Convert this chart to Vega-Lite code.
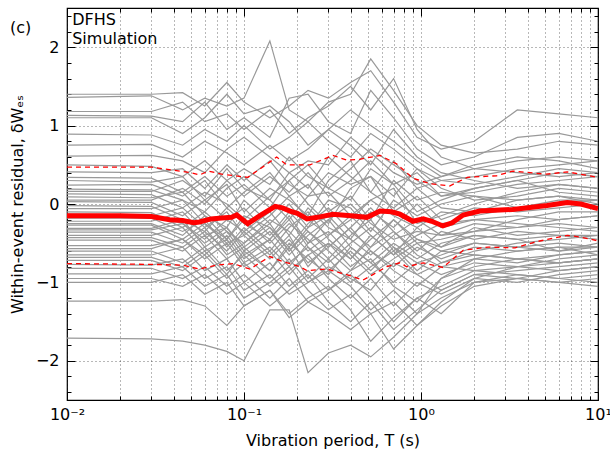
{
"$schema": "https://vega.github.io/schema/vega-lite/v6.json",
"autosize": "none",
"width": 531,
"height": 392,
"padding": {"left": 67, "top": 8, "right": 12, "bottom": 51},
"background": "white",
"title": {"text": "(c)", "anchor": "start", "frame": "group", "offset": 0, "dx": -57, "dy": 41, "baseline": "alphabetic", "fontSize": 16, "fontWeight": "normal", "font": "DejaVu Sans", "color": "black"},
"config": {
"view": {"stroke": "black", "strokeWidth": 1.2},
"axis": {"labelFont": "DejaVu Sans", "titleFont": "DejaVu Sans", "labelFontSize": 16, "titleFontSize": 16, "titleFontWeight": "normal", "labelColor": "black", "titleColor": "black", "domain": false, "tickColor": "black", "tickWidth": 1}
},
"datasets": {
"g": [
{"s":1,"t":0.01,"y":1.40},{"s":1,"t":0.03,"y":1.40},{"s":1,"t":0.045,"y":1.42},{"s":1,"t":0.06,"y":1.25},{"s":1,"t":0.08,"y":1.55},{"s":1,"t":0.1,"y":1.30},{"s":1,"t":0.14,"y":1.10},{"s":1,"t":0.18,"y":1.25},{"s":1,"t":0.23,"y":1.45},{"s":1,"t":0.3,"y":1.35},{"s":1,"t":0.4,"y":1.55},{"s":1,"t":0.52,"y":1.70},{"s":1,"t":0.7,"y":1.30},{"s":1,"t":0.95,"y":0.85},{"s":1,"t":1.3,"y":0.70},{"s":1,"t":2,"y":0.80},{"s":1,"t":3.5,"y":1.20},{"s":1,"t":6,"y":1.15},{"s":1,"t":10,"y":1.10},
{"s":2,"t":0.01,"y":1.36},{"s":2,"t":0.03,"y":1.38},{"s":2,"t":0.045,"y":1.20},{"s":2,"t":0.06,"y":1.35},{"s":2,"t":0.08,"y":1.25},{"s":2,"t":0.1,"y":1.35},{"s":2,"t":0.14,"y":2.08},{"s":2,"t":0.18,"y":1.20},{"s":2,"t":0.23,"y":1.05},{"s":2,"t":0.3,"y":1.30},{"s":2,"t":0.4,"y":1.40},{"s":2,"t":0.52,"y":1.85},{"s":2,"t":0.7,"y":1.45},{"s":2,"t":0.95,"y":1.00},{"s":2,"t":1.3,"y":0.75},{"s":2,"t":2,"y":0.65},{"s":2,"t":3.5,"y":0.70},{"s":2,"t":6,"y":0.80},{"s":2,"t":10,"y":0.75},
{"s":3,"t":0.01,"y":1.18},{"s":3,"t":0.03,"y":1.18},{"s":3,"t":0.045,"y":1.30},{"s":3,"t":0.06,"y":1.05},{"s":3,"t":0.08,"y":1.15},{"s":3,"t":0.1,"y":0.95},{"s":3,"t":0.14,"y":1.20},{"s":3,"t":0.18,"y":0.90},{"s":3,"t":0.23,"y":1.10},{"s":3,"t":0.3,"y":1.25},{"s":3,"t":0.4,"y":1.50},{"s":3,"t":0.52,"y":1.20},{"s":3,"t":0.7,"y":1.60},{"s":3,"t":0.95,"y":0.95},{"s":3,"t":1.3,"y":0.60},{"s":3,"t":2,"y":0.45},{"s":3,"t":3.5,"y":0.55},{"s":3,"t":6,"y":0.60},{"s":3,"t":10,"y":0.55},
{"s":4,"t":0.01,"y":1.13},{"s":4,"t":0.03,"y":1.12},{"s":4,"t":0.045,"y":1.05},{"s":4,"t":0.06,"y":1.30},{"s":4,"t":0.08,"y":0.95},{"s":4,"t":0.1,"y":1.10},{"s":4,"t":0.14,"y":0.85},{"s":4,"t":0.18,"y":1.35},{"s":4,"t":0.23,"y":1.40},{"s":4,"t":0.3,"y":1.05},{"s":4,"t":0.4,"y":0.90},{"s":4,"t":0.52,"y":1.45},{"s":4,"t":0.7,"y":1.10},{"s":4,"t":0.95,"y":0.70},{"s":4,"t":1.3,"y":0.50},{"s":4,"t":2,"y":0.60},{"s":4,"t":3.5,"y":0.85},{"s":4,"t":6,"y":0.90},{"s":4,"t":10,"y":0.80},
{"s":5,"t":0.01,"y":1.10},{"s":5,"t":0.03,"y":1.10},{"s":5,"t":0.045,"y":0.90},{"s":5,"t":0.06,"y":1.10},{"s":5,"t":0.08,"y":1.40},{"s":5,"t":0.1,"y":1.15},{"s":5,"t":0.14,"y":1.25},{"s":5,"t":0.18,"y":1.05},{"s":5,"t":0.23,"y":0.75},{"s":5,"t":0.3,"y":0.95},{"s":5,"t":0.4,"y":1.20},{"s":5,"t":0.52,"y":1.00},{"s":5,"t":0.7,"y":0.80},{"s":5,"t":0.95,"y":0.55},{"s":5,"t":1.3,"y":0.35},{"s":5,"t":2,"y":0.45},{"s":5,"t":3.5,"y":0.40},{"s":5,"t":6,"y":0.35},{"s":5,"t":10,"y":0.40},
{"s":6,"t":0.01,"y":0.89},{"s":6,"t":0.03,"y":0.88},{"s":6,"t":0.045,"y":0.75},{"s":6,"t":0.06,"y":0.95},{"s":6,"t":0.08,"y":0.80},{"s":6,"t":0.1,"y":1.00},{"s":6,"t":0.14,"y":0.70},{"s":6,"t":0.18,"y":0.85},{"s":6,"t":0.23,"y":1.05},{"s":6,"t":0.3,"y":0.80},{"s":6,"t":0.4,"y":0.60},{"s":6,"t":0.52,"y":0.90},{"s":6,"t":0.7,"y":0.70},{"s":6,"t":0.95,"y":0.45},{"s":6,"t":1.3,"y":0.30},{"s":6,"t":2,"y":0.25},{"s":6,"t":3.5,"y":0.35},{"s":6,"t":6,"y":0.45},{"s":6,"t":10,"y":0.40},
{"s":7,"t":0.01,"y":0.75},{"s":7,"t":0.03,"y":0.76},{"s":7,"t":0.045,"y":0.60},{"s":7,"t":0.06,"y":0.80},{"s":7,"t":0.08,"y":0.65},{"s":7,"t":0.1,"y":0.50},{"s":7,"t":0.14,"y":0.75},{"s":7,"t":0.18,"y":0.55},{"s":7,"t":0.23,"y":0.70},{"s":7,"t":0.3,"y":0.95},{"s":7,"t":0.4,"y":0.75},{"s":7,"t":0.52,"y":0.50},{"s":7,"t":0.7,"y":0.95},{"s":7,"t":0.95,"y":0.60},{"s":7,"t":1.3,"y":0.40},{"s":7,"t":2,"y":0.30},{"s":7,"t":3.5,"y":0.20},{"s":7,"t":6,"y":0.25},{"s":7,"t":10,"y":0.20},
{"s":8,"t":0.01,"y":0.61},{"s":8,"t":0.03,"y":0.62},{"s":8,"t":0.045,"y":0.55},{"s":8,"t":0.06,"y":0.40},{"s":8,"t":0.08,"y":0.70},{"s":8,"t":0.1,"y":0.85},{"s":8,"t":0.14,"y":0.60},{"s":8,"t":0.18,"y":0.40},{"s":8,"t":0.23,"y":0.55},{"s":8,"t":0.3,"y":0.50},{"s":8,"t":0.4,"y":0.85},{"s":8,"t":0.52,"y":0.65},{"s":8,"t":0.7,"y":0.40},{"s":8,"t":0.95,"y":0.25},{"s":8,"t":1.3,"y":0.35},{"s":8,"t":2,"y":0.50},{"s":8,"t":3.5,"y":0.60},{"s":8,"t":6,"y":0.55},{"s":8,"t":10,"y":0.45},
{"s":9,"t":0.01,"y":0.50},{"s":9,"t":0.03,"y":0.48},{"s":9,"t":0.045,"y":0.35},{"s":9,"t":0.06,"y":0.55},{"s":9,"t":0.08,"y":0.30},{"s":9,"t":0.1,"y":0.45},{"s":9,"t":0.14,"y":0.25},{"s":9,"t":0.18,"y":0.60},{"s":9,"t":0.23,"y":0.35},{"s":9,"t":0.3,"y":0.20},{"s":9,"t":0.4,"y":0.45},{"s":9,"t":0.52,"y":0.70},{"s":9,"t":0.7,"y":0.50},{"s":9,"t":0.95,"y":0.30},{"s":9,"t":1.3,"y":0.10},{"s":9,"t":2,"y":0.15},{"s":9,"t":3.5,"y":0.25},{"s":9,"t":6,"y":0.30},{"s":9,"t":10,"y":0.35},
{"s":10,"t":0.01,"y":0.41},{"s":10,"t":0.03,"y":0.40},{"s":10,"t":0.045,"y":0.45},{"s":10,"t":0.06,"y":0.20},{"s":10,"t":0.08,"y":0.50},{"s":10,"t":0.1,"y":0.30},{"s":10,"t":0.14,"y":0.55},{"s":10,"t":0.18,"y":0.25},{"s":10,"t":0.23,"y":0.10},{"s":10,"t":0.3,"y":0.40},{"s":10,"t":0.4,"y":0.25},{"s":10,"t":0.52,"y":0.35},{"s":10,"t":0.7,"y":0.10},{"s":10,"t":0.95,"y":0.45},{"s":10,"t":1.3,"y":0.20},{"s":10,"t":2,"y":0.05},{"s":10,"t":3.5,"y":0.10},{"s":10,"t":6,"y":0.20},{"s":10,"t":10,"y":0.15},
{"s":11,"t":0.01,"y":0.34},{"s":11,"t":0.03,"y":0.33},{"s":11,"t":0.045,"y":0.15},{"s":11,"t":0.06,"y":0.35},{"s":11,"t":0.08,"y":0.10},{"s":11,"t":0.1,"y":0.25},{"s":11,"t":0.14,"y":-0.05},{"s":11,"t":0.18,"y":0.30},{"s":11,"t":0.23,"y":0.50},{"s":11,"t":0.3,"y":0.20},{"s":11,"t":0.4,"y":0.05},{"s":11,"t":0.52,"y":0.45},{"s":11,"t":0.7,"y":0.25},{"s":11,"t":0.95,"y":-0.10},{"s":11,"t":1.3,"y":0.05},{"s":11,"t":2,"y":0.20},{"s":11,"t":3.5,"y":0.30},{"s":11,"t":6,"y":0.15},{"s":11,"t":10,"y":0.10},
{"s":12,"t":0.01,"y":0.30},{"s":12,"t":0.03,"y":0.28},{"s":12,"t":0.045,"y":0.35},{"s":12,"t":0.06,"y":0.05},{"s":12,"t":0.08,"y":0.25},{"s":12,"t":0.1,"y":-0.10},{"s":12,"t":0.14,"y":0.20},{"s":12,"t":0.18,"y":0.05},{"s":12,"t":0.23,"y":-0.15},{"s":12,"t":0.3,"y":0.30},{"s":12,"t":0.4,"y":0.55},{"s":12,"t":0.52,"y":0.15},{"s":12,"t":0.7,"y":-0.05},{"s":12,"t":0.95,"y":0.20},{"s":12,"t":1.3,"y":-0.05},{"s":12,"t":2,"y":-0.10},{"s":12,"t":3.5,"y":0.05},{"s":12,"t":6,"y":0.10},{"s":12,"t":10,"y":0.05},
{"s":13,"t":0.01,"y":0.24},{"s":13,"t":0.03,"y":0.25},{"s":13,"t":0.045,"y":0.10},{"s":13,"t":0.06,"y":0.30},{"s":13,"t":0.08,"y":-0.05},{"s":13,"t":0.1,"y":0.15},{"s":13,"t":0.14,"y":0.40},{"s":13,"t":0.18,"y":0.10},{"s":13,"t":0.23,"y":0.25},{"s":13,"t":0.3,"y":-0.10},{"s":13,"t":0.4,"y":0.10},{"s":13,"t":0.52,"y":-0.20},{"s":13,"t":0.7,"y":0.30},{"s":13,"t":0.95,"y":0.05},{"s":13,"t":1.3,"y":0.15},{"s":13,"t":2,"y":0.10},{"s":13,"t":3.5,"y":-0.05},{"s":13,"t":6,"y":0.00},{"s":13,"t":10,"y":0.05},
{"s":14,"t":0.01,"y":0.19},{"s":14,"t":0.03,"y":0.18},{"s":14,"t":0.045,"y":0.05},{"s":14,"t":0.06,"y":-0.10},{"s":14,"t":0.08,"y":0.20},{"s":14,"t":0.1,"y":0.35},{"s":14,"t":0.14,"y":0.05},{"s":14,"t":0.18,"y":-0.20},{"s":14,"t":0.23,"y":0.10},{"s":14,"t":0.3,"y":0.15},{"s":14,"t":0.4,"y":-0.15},{"s":14,"t":0.52,"y":0.05},{"s":14,"t":0.7,"y":0.20},{"s":14,"t":0.95,"y":-0.25},{"s":14,"t":1.3,"y":-0.15},{"s":14,"t":2,"y":0.00},{"s":14,"t":3.5,"y":0.15},{"s":14,"t":6,"y":0.25},{"s":14,"t":10,"y":0.20},
{"s":15,"t":0.01,"y":0.13},{"s":15,"t":0.03,"y":0.12},{"s":15,"t":0.045,"y":-0.05},{"s":15,"t":0.06,"y":0.15},{"s":15,"t":0.08,"y":0.00},{"s":15,"t":0.1,"y":-0.20},{"s":15,"t":0.14,"y":0.10},{"s":15,"t":0.18,"y":0.30},{"s":15,"t":0.23,"y":0.00},{"s":15,"t":0.3,"y":-0.25},{"s":15,"t":0.4,"y":0.20},{"s":15,"t":0.52,"y":0.35},{"s":15,"t":0.7,"y":-0.10},{"s":15,"t":0.95,"y":0.10},{"s":15,"t":1.3,"y":-0.20},{"s":15,"t":2,"y":-0.05},{"s":15,"t":3.5,"y":-0.10},{"s":15,"t":6,"y":-0.05},{"s":15,"t":10,"y":0.00},
{"s":16,"t":0.01,"y":0.09},{"s":16,"t":0.03,"y":0.08},{"s":16,"t":0.045,"y":0.15},{"s":16,"t":0.06,"y":-0.15},{"s":16,"t":0.08,"y":-0.30},{"s":16,"t":0.1,"y":0.05},{"s":16,"t":0.14,"y":-0.25},{"s":16,"t":0.18,"y":0.00},{"s":16,"t":0.23,"y":-0.30},{"s":16,"t":0.3,"y":0.05},{"s":16,"t":0.4,"y":-0.05},{"s":16,"t":0.52,"y":-0.35},{"s":16,"t":0.7,"y":0.05},{"s":16,"t":0.95,"y":-0.15},{"s":16,"t":1.3,"y":0.00},{"s":16,"t":2,"y":0.10},{"s":16,"t":3.5,"y":0.05},{"s":16,"t":6,"y":0.10},{"s":16,"t":10,"y":0.00},
{"s":17,"t":0.01,"y":0.03},{"s":17,"t":0.03,"y":0.02},{"s":17,"t":0.045,"y":-0.15},{"s":17,"t":0.06,"y":0.05},{"s":17,"t":0.08,"y":-0.20},{"s":17,"t":0.1,"y":-0.35},{"s":17,"t":0.14,"y":-0.10},{"s":17,"t":0.18,"y":-0.40},{"s":17,"t":0.23,"y":-0.05},{"s":17,"t":0.3,"y":-0.30},{"s":17,"t":0.4,"y":-0.45},{"s":17,"t":0.52,"y":-0.10},{"s":17,"t":0.7,"y":-0.30},{"s":17,"t":0.95,"y":0.00},{"s":17,"t":1.3,"y":-0.30},{"s":17,"t":2,"y":-0.20},{"s":17,"t":3.5,"y":-0.15},{"s":17,"t":6,"y":-0.20},{"s":17,"t":10,"y":-0.15},
{"s":18,"t":0.01,"y":-0.02},{"s":18,"t":0.03,"y":-0.03},{"s":18,"t":0.045,"y":-0.20},{"s":18,"t":0.06,"y":-0.35},{"s":18,"t":0.08,"y":-0.05},{"s":18,"t":0.1,"y":-0.25},{"s":18,"t":0.14,"y":-0.45},{"s":18,"t":0.18,"y":-0.15},{"s":18,"t":0.23,"y":-0.50},{"s":18,"t":0.3,"y":-0.20},{"s":18,"t":0.4,"y":0.00},{"s":18,"t":0.52,"y":-0.25},{"s":18,"t":0.7,"y":-0.45},{"s":18,"t":0.95,"y":-0.35},{"s":18,"t":1.3,"y":-0.40},{"s":18,"t":2,"y":-0.25},{"s":18,"t":3.5,"y":-0.30},{"s":18,"t":6,"y":-0.25},{"s":18,"t":10,"y":-0.30},
{"s":19,"t":0.01,"y":-0.06},{"s":19,"t":0.03,"y":-0.06},{"s":19,"t":0.045,"y":0.05},{"s":19,"t":0.06,"y":-0.25},{"s":19,"t":0.08,"y":-0.45},{"s":19,"t":0.1,"y":-0.15},{"s":19,"t":0.14,"y":-0.30},{"s":19,"t":0.18,"y":-0.55},{"s":19,"t":0.23,"y":-0.25},{"s":19,"t":0.3,"y":-0.05},{"s":19,"t":0.4,"y":-0.35},{"s":19,"t":0.52,"y":-0.55},{"s":19,"t":0.7,"y":-0.20},{"s":19,"t":0.95,"y":-0.50},{"s":19,"t":1.3,"y":-0.45},{"s":19,"t":2,"y":-0.35},{"s":19,"t":3.5,"y":-0.20},{"s":19,"t":6,"y":-0.10},{"s":19,"t":10,"y":-0.10},
{"s":20,"t":0.01,"y":-0.10},{"s":20,"t":0.03,"y":-0.11},{"s":20,"t":0.045,"y":-0.30},{"s":20,"t":0.06,"y":-0.10},{"s":20,"t":0.08,"y":-0.35},{"s":20,"t":0.1,"y":-0.50},{"s":20,"t":0.14,"y":-0.20},{"s":20,"t":0.18,"y":-0.35},{"s":20,"t":0.23,"y":-0.60},{"s":20,"t":0.3,"y":-0.40},{"s":20,"t":0.4,"y":-0.15},{"s":20,"t":0.52,"y":-0.40},{"s":20,"t":0.7,"y":-0.65},{"s":20,"t":0.95,"y":-0.30},{"s":20,"t":1.3,"y":-0.55},{"s":20,"t":2,"y":-0.30},{"s":20,"t":3.5,"y":-0.40},{"s":20,"t":6,"y":-0.35},{"s":20,"t":10,"y":-0.30},
{"s":21,"t":0.01,"y":-0.13},{"s":21,"t":0.03,"y":-0.14},{"s":21,"t":0.045,"y":-0.25},{"s":21,"t":0.06,"y":-0.45},{"s":21,"t":0.08,"y":-0.20},{"s":21,"t":0.1,"y":-0.05},{"s":21,"t":0.14,"y":-0.40},{"s":21,"t":0.18,"y":-0.10},{"s":21,"t":0.23,"y":-0.35},{"s":21,"t":0.3,"y":-0.55},{"s":21,"t":0.4,"y":-0.30},{"s":21,"t":0.52,"y":-0.05},{"s":21,"t":0.7,"y":-0.35},{"s":21,"t":0.95,"y":-0.60},{"s":21,"t":1.3,"y":-0.35},{"s":21,"t":2,"y":-0.45},{"s":21,"t":3.5,"y":-0.35},{"s":21,"t":6,"y":-0.40},{"s":21,"t":10,"y":-0.45},
{"s":22,"t":0.01,"y":-0.18},{"s":22,"t":0.03,"y":-0.18},{"s":22,"t":0.045,"y":-0.35},{"s":22,"t":0.06,"y":-0.20},{"s":22,"t":0.08,"y":-0.55},{"s":22,"t":0.1,"y":-0.30},{"s":22,"t":0.14,"y":-0.60},{"s":22,"t":0.18,"y":-0.30},{"s":22,"t":0.23,"y":-0.10},{"s":22,"t":0.3,"y":-0.45},{"s":22,"t":0.4,"y":-0.70},{"s":22,"t":0.52,"y":-0.45},{"s":22,"t":0.7,"y":-0.20},{"s":22,"t":0.95,"y":-0.45},{"s":22,"t":1.3,"y":-0.60},{"s":22,"t":2,"y":-0.50},{"s":22,"t":3.5,"y":-0.55},{"s":22,"t":6,"y":-0.50},{"s":22,"t":10,"y":-0.55},
{"s":23,"t":0.01,"y":-0.22},{"s":23,"t":0.03,"y":-0.22},{"s":23,"t":0.045,"y":-0.10},{"s":23,"t":0.06,"y":-0.40},{"s":23,"t":0.08,"y":-0.30},{"s":23,"t":0.1,"y":-0.60},{"s":23,"t":0.14,"y":-0.35},{"s":23,"t":0.18,"y":-0.65},{"s":23,"t":0.23,"y":-0.40},{"s":23,"t":0.3,"y":-0.20},{"s":23,"t":0.4,"y":-0.55},{"s":23,"t":0.52,"y":-0.75},{"s":23,"t":0.7,"y":-0.50},{"s":23,"t":0.95,"y":-0.70},{"s":23,"t":1.3,"y":-0.50},{"s":23,"t":2,"y":-0.40},{"s":23,"t":3.5,"y":-0.45},{"s":23,"t":6,"y":-0.60},{"s":23,"t":10,"y":-0.50},
{"s":24,"t":0.01,"y":-0.27},{"s":24,"t":0.03,"y":-0.27},{"s":24,"t":0.045,"y":-0.45},{"s":24,"t":0.06,"y":-0.25},{"s":24,"t":0.08,"y":-0.50},{"s":24,"t":0.1,"y":-0.40},{"s":24,"t":0.14,"y":-0.70},{"s":24,"t":0.18,"y":-0.45},{"s":24,"t":0.23,"y":-0.75},{"s":24,"t":0.3,"y":-0.55},{"s":24,"t":0.4,"y":-0.30},{"s":24,"t":0.52,"y":-0.60},{"s":24,"t":0.7,"y":-0.80},{"s":24,"t":0.95,"y":-0.55},{"s":24,"t":1.3,"y":-0.70},{"s":24,"t":2,"y":-0.55},{"s":24,"t":3.5,"y":-0.60},{"s":24,"t":6,"y":-0.55},{"s":24,"t":10,"y":-0.65},
{"s":25,"t":0.01,"y":-0.31},{"s":25,"t":0.03,"y":-0.31},{"s":25,"t":0.045,"y":-0.20},{"s":25,"t":0.06,"y":-0.55},{"s":25,"t":0.08,"y":-0.35},{"s":25,"t":0.1,"y":-0.65},{"s":25,"t":0.14,"y":-0.45},{"s":25,"t":0.18,"y":-0.20},{"s":25,"t":0.23,"y":-0.55},{"s":25,"t":0.3,"y":-0.75},{"s":25,"t":0.4,"y":-0.50},{"s":25,"t":0.52,"y":-0.30},{"s":25,"t":0.7,"y":-0.55},{"s":25,"t":0.95,"y":-0.85},{"s":25,"t":1.3,"y":-0.60},{"s":25,"t":2,"y":-0.65},{"s":25,"t":3.5,"y":-0.70},{"s":25,"t":6,"y":-0.75},{"s":25,"t":10,"y":-0.70},
{"s":26,"t":0.01,"y":-0.36},{"s":26,"t":0.03,"y":-0.36},{"s":26,"t":0.045,"y":-0.50},{"s":26,"t":0.06,"y":-0.30},{"s":26,"t":0.08,"y":-0.65},{"s":26,"t":0.1,"y":-0.50},{"s":26,"t":0.14,"y":-0.25},{"s":26,"t":0.18,"y":-0.60},{"s":26,"t":0.23,"y":-0.35},{"s":26,"t":0.3,"y":-0.60},{"s":26,"t":0.4,"y":-0.85},{"s":26,"t":0.52,"y":-0.55},{"s":26,"t":0.7,"y":-0.35},{"s":26,"t":0.95,"y":-0.65},{"s":26,"t":1.3,"y":-0.80},{"s":26,"t":2,"y":-0.70},{"s":26,"t":3.5,"y":-0.75},{"s":26,"t":6,"y":-0.65},{"s":26,"t":10,"y":-0.60},
{"s":27,"t":0.01,"y":-0.40},{"s":27,"t":0.03,"y":-0.40},{"s":27,"t":0.045,"y":-0.30},{"s":27,"t":0.06,"y":-0.60},{"s":27,"t":0.08,"y":-0.45},{"s":27,"t":0.1,"y":-0.75},{"s":27,"t":0.14,"y":-0.55},{"s":27,"t":0.18,"y":-0.80},{"s":27,"t":0.23,"y":-0.50},{"s":27,"t":0.3,"y":-0.35},{"s":27,"t":0.4,"y":-0.65},{"s":27,"t":0.52,"y":-0.90},{"s":27,"t":0.7,"y":-0.70},{"s":27,"t":0.95,"y":-0.50},{"s":27,"t":1.3,"y":-0.75},{"s":27,"t":2,"y":-0.60},{"s":27,"t":3.5,"y":-0.50},{"s":27,"t":6,"y":-0.45},{"s":27,"t":10,"y":-0.40},
{"s":28,"t":0.01,"y":-0.46},{"s":28,"t":0.03,"y":-0.46},{"s":28,"t":0.045,"y":-0.60},{"s":28,"t":0.06,"y":-0.40},{"s":28,"t":0.08,"y":-0.70},{"s":28,"t":0.1,"y":-0.55},{"s":28,"t":0.14,"y":-0.85},{"s":28,"t":0.18,"y":-0.50},{"s":28,"t":0.23,"y":-0.70},{"s":28,"t":0.3,"y":-0.90},{"s":28,"t":0.4,"y":-0.55},{"s":28,"t":0.52,"y":-0.75},{"s":28,"t":0.7,"y":-1.00},{"s":28,"t":0.95,"y":-0.75},{"s":28,"t":1.3,"y":-0.90},{"s":28,"t":2,"y":-0.75},{"s":28,"t":3.5,"y":-0.80},{"s":28,"t":6,"y":-0.85},{"s":28,"t":10,"y":-0.80},
{"s":29,"t":0.01,"y":-0.53},{"s":29,"t":0.03,"y":-0.53},{"s":29,"t":0.045,"y":-0.45},{"s":29,"t":0.06,"y":-0.70},{"s":29,"t":0.08,"y":-0.50},{"s":29,"t":0.1,"y":-0.80},{"s":29,"t":0.14,"y":-0.60},{"s":29,"t":0.18,"y":-0.90},{"s":29,"t":0.23,"y":-0.65},{"s":29,"t":0.3,"y":-0.50},{"s":29,"t":0.4,"y":-0.80},{"s":29,"t":0.52,"y":-0.60},{"s":29,"t":0.7,"y":-0.85},{"s":29,"t":0.95,"y":-1.05},{"s":29,"t":1.3,"y":-0.80},{"s":29,"t":2,"y":-0.85},{"s":29,"t":3.5,"y":-0.90},{"s":29,"t":6,"y":-0.95},{"s":29,"t":10,"y":-1.00},
{"s":30,"t":0.01,"y":-0.60},{"s":30,"t":0.03,"y":-0.60},{"s":30,"t":0.045,"y":-0.75},{"s":30,"t":0.06,"y":-0.55},{"s":30,"t":0.08,"y":-0.85},{"s":30,"t":0.1,"y":-0.65},{"s":30,"t":0.14,"y":-0.95},{"s":30,"t":0.18,"y":-0.70},{"s":30,"t":0.23,"y":-1.00},{"s":30,"t":0.3,"y":-0.80},{"s":30,"t":0.4,"y":-0.95},{"s":30,"t":0.52,"y":-1.10},{"s":30,"t":0.7,"y":-0.75},{"s":30,"t":0.95,"y":-0.90},{"s":30,"t":1.3,"y":-1.10},{"s":30,"t":2,"y":-0.90},{"s":30,"t":3.5,"y":-0.95},{"s":30,"t":6,"y":-1.00},{"s":30,"t":10,"y":-1.05},
{"s":31,"t":0.01,"y":-0.65},{"s":31,"t":0.03,"y":-0.65},{"s":31,"t":0.045,"y":-0.55},{"s":31,"t":0.06,"y":-0.85},{"s":31,"t":0.08,"y":-0.70},{"s":31,"t":0.1,"y":-1.00},{"s":31,"t":0.14,"y":-0.75},{"s":31,"t":0.18,"y":-1.05},{"s":31,"t":0.23,"y":-0.85},{"s":31,"t":0.3,"y":-1.10},{"s":31,"t":0.4,"y":-0.85},{"s":31,"t":0.52,"y":-0.70},{"s":31,"t":0.7,"y":-1.05},{"s":31,"t":0.95,"y":-1.25},{"s":31,"t":1.3,"y":-0.95},{"s":31,"t":2,"y":-0.80},{"s":31,"t":3.5,"y":-0.70},{"s":31,"t":6,"y":-0.75},{"s":31,"t":10,"y":-0.70},
{"s":32,"t":0.01,"y":-0.72},{"s":32,"t":0.03,"y":-0.72},{"s":32,"t":0.045,"y":-0.85},{"s":32,"t":0.06,"y":-0.65},{"s":32,"t":0.08,"y":-0.95},{"s":32,"t":0.1,"y":-0.75},{"s":32,"t":0.14,"y":-1.05},{"s":32,"t":0.18,"y":-0.85},{"s":32,"t":0.23,"y":-0.65},{"s":32,"t":0.3,"y":-0.95},{"s":32,"t":0.4,"y":-1.20},{"s":32,"t":0.52,"y":-0.95},{"s":32,"t":0.7,"y":-1.30},{"s":32,"t":0.95,"y":-1.00},{"s":32,"t":1.3,"y":-1.15},{"s":32,"t":2,"y":-0.95},{"s":32,"t":3.5,"y":-1.00},{"s":32,"t":6,"y":-0.90},{"s":32,"t":10,"y":-0.85},
{"s":33,"t":0.01,"y":-0.77},{"s":33,"t":0.03,"y":-0.78},{"s":33,"t":0.045,"y":-0.70},{"s":33,"t":0.06,"y":-0.95},{"s":33,"t":0.08,"y":-0.80},{"s":33,"t":0.1,"y":-1.10},{"s":33,"t":0.14,"y":-0.90},{"s":33,"t":0.18,"y":-1.15},{"s":33,"t":0.23,"y":-1.00},{"s":33,"t":0.3,"y":-0.85},{"s":33,"t":0.4,"y":-1.05},{"s":33,"t":0.52,"y":-1.35},{"s":33,"t":0.7,"y":-1.10},{"s":33,"t":0.95,"y":-1.40},{"s":33,"t":1.3,"y":-0.95},{"s":33,"t":2,"y":-0.70},{"s":33,"t":3.5,"y":-0.60},{"s":33,"t":6,"y":-0.55},{"s":33,"t":10,"y":-0.55},
{"s":34,"t":0.01,"y":-0.82},{"s":34,"t":0.03,"y":-0.82},{"s":34,"t":0.045,"y":-0.95},{"s":34,"t":0.06,"y":-0.80},{"s":34,"t":0.08,"y":-1.05},{"s":34,"t":0.1,"y":-0.90},{"s":34,"t":0.14,"y":-1.20},{"s":34,"t":0.18,"y":-0.95},{"s":34,"t":0.23,"y":-1.25},{"s":34,"t":0.3,"y":-1.10},{"s":34,"t":0.4,"y":-0.90},{"s":34,"t":0.52,"y":-1.15},{"s":34,"t":0.7,"y":-1.50},{"s":34,"t":0.95,"y":-1.20},{"s":34,"t":1.3,"y":-1.05},{"s":34,"t":2,"y":-0.85},{"s":34,"t":3.5,"y":-0.80},{"s":34,"t":6,"y":-0.70},{"s":34,"t":10,"y":-0.65},
{"s":35,"t":0.01,"y":-0.89},{"s":35,"t":0.03,"y":-0.89},{"s":35,"t":0.045,"y":-0.80},{"s":35,"t":0.06,"y":-1.05},{"s":35,"t":0.08,"y":-0.90},{"s":35,"t":0.1,"y":-1.20},{"s":35,"t":0.14,"y":-1.00},{"s":35,"t":0.18,"y":-0.80},{"s":35,"t":0.23,"y":-1.10},{"s":35,"t":0.3,"y":-1.35},{"s":35,"t":0.4,"y":-1.15},{"s":35,"t":0.52,"y":-1.40},{"s":35,"t":0.7,"y":-1.25},{"s":35,"t":0.95,"y":-1.55},{"s":35,"t":1.3,"y":-1.30},{"s":35,"t":2,"y":-1.05},{"s":35,"t":3.5,"y":-0.95},{"s":35,"t":6,"y":-1.00},{"s":35,"t":10,"y":-0.95},
{"s":36,"t":0.01,"y":-0.95},{"s":36,"t":0.03,"y":-0.95},{"s":36,"t":0.045,"y":-1.05},{"s":36,"t":0.06,"y":-0.90},{"s":36,"t":0.08,"y":-1.15},{"s":36,"t":0.1,"y":-1.00},{"s":36,"t":0.14,"y":-1.30},{"s":36,"t":0.18,"y":-1.10},{"s":36,"t":0.23,"y":-0.90},{"s":36,"t":0.3,"y":-1.25},{"s":36,"t":0.4,"y":-1.50},{"s":36,"t":0.52,"y":-1.25},{"s":36,"t":0.7,"y":-1.60},{"s":36,"t":0.95,"y":-1.35},{"s":36,"t":1.3,"y":-1.10},{"s":36,"t":2,"y":-0.90},{"s":36,"t":3.5,"y":-0.85},{"s":36,"t":6,"y":-0.80},{"s":36,"t":10,"y":-0.75},
{"s":37,"t":0.01,"y":-1.00},{"s":37,"t":0.03,"y":-1.00},{"s":37,"t":0.045,"y":-0.90},{"s":37,"t":0.06,"y":-1.15},{"s":37,"t":0.08,"y":-1.00},{"s":37,"t":0.1,"y":-1.30},{"s":37,"t":0.14,"y":-1.10},{"s":37,"t":0.18,"y":-1.40},{"s":37,"t":0.23,"y":-1.20},{"s":37,"t":0.3,"y":-1.05},{"s":37,"t":0.4,"y":-1.35},{"s":37,"t":0.52,"y":-1.75},{"s":37,"t":0.7,"y":-1.45},{"s":37,"t":0.95,"y":-1.20},{"s":37,"t":1.3,"y":-1.40},{"s":37,"t":2,"y":-1.00},{"s":37,"t":3.5,"y":-0.90},{"s":37,"t":6,"y":-0.95},{"s":37,"t":10,"y":-0.90},
{"s":38,"t":0.01,"y":-1.24},{"s":38,"t":0.03,"y":-1.24},{"s":38,"t":0.045,"y":-1.22},{"s":38,"t":0.06,"y":-1.30},{"s":38,"t":0.08,"y":-1.55},{"s":38,"t":0.1,"y":-1.30},{"s":38,"t":0.14,"y":-1.10},{"s":38,"t":0.18,"y":-1.45},{"s":38,"t":0.23,"y":-1.25},{"s":38,"t":0.3,"y":-1.40},{"s":38,"t":0.4,"y":-1.60},{"s":38,"t":0.52,"y":-1.40},{"s":38,"t":0.7,"y":-1.85},{"s":38,"t":0.95,"y":-1.55},{"s":38,"t":1.3,"y":-1.25},{"s":38,"t":2,"y":-0.95},{"s":38,"t":3.5,"y":-0.80},{"s":38,"t":6,"y":-0.75},{"s":38,"t":10,"y":-0.70},
{"s":39,"t":0.01,"y":-1.71},{"s":39,"t":0.03,"y":-1.72},{"s":39,"t":0.045,"y":-1.75},{"s":39,"t":0.06,"y":-1.80},{"s":39,"t":0.08,"y":-1.88},{"s":39,"t":0.1,"y":-2.00},{"s":39,"t":0.14,"y":-1.35},{"s":39,"t":0.18,"y":-1.35},{"s":39,"t":0.23,"y":-2.15},{"s":39,"t":0.3,"y":-1.90},{"s":39,"t":0.4,"y":-1.80},{"s":39,"t":0.52,"y":-1.95},{"s":39,"t":0.7,"y":-1.70},{"s":39,"t":0.95,"y":-1.40},{"s":39,"t":1.3,"y":-1.20},{"s":39,"t":2,"y":-1.00},{"s":39,"t":3.5,"y":-0.95},{"s":39,"t":6,"y":-0.85},{"s":39,"t":10,"y":-0.80},
{"s":40,"t":0.01,"y":-0.25},{"s":40,"t":0.03,"y":-0.25},{"s":40,"t":0.045,"y":-0.40},{"s":40,"t":0.06,"y":-0.15},{"s":40,"t":0.08,"y":-0.45},{"s":40,"t":0.1,"y":-0.20},{"s":40,"t":0.14,"y":-0.50},{"s":40,"t":0.18,"y":-0.25},{"s":40,"t":0.23,"y":-0.45},{"s":40,"t":0.3,"y":-0.70},{"s":40,"t":0.4,"y":-0.40},{"s":40,"t":0.52,"y":-0.20},{"s":40,"t":0.7,"y":-0.60},{"s":40,"t":0.95,"y":-0.40},{"s":40,"t":1.3,"y":-0.25},{"s":40,"t":2,"y":-0.20},{"s":40,"t":3.5,"y":-0.25},{"s":40,"t":6,"y":-0.30},{"s":40,"t":10,"y":-0.35},
{"s":41,"t":0.01,"y":-0.33},{"s":41,"t":0.03,"y":-0.33},{"s":41,"t":0.045,"y":-0.25},{"s":41,"t":0.06,"y":-0.50},{"s":41,"t":0.08,"y":-0.30},{"s":41,"t":0.1,"y":-0.55},{"s":41,"t":0.14,"y":-0.30},{"s":41,"t":0.18,"y":-0.60},{"s":41,"t":0.23,"y":-0.30},{"s":41,"t":0.3,"y":-0.15},{"s":41,"t":0.4,"y":-0.45},{"s":41,"t":0.52,"y":-0.65},{"s":41,"t":0.7,"y":-0.40},{"s":41,"t":0.95,"y":-0.20},{"s":41,"t":1.3,"y":-0.40},{"s":41,"t":2,"y":-0.35},{"s":41,"t":3.5,"y":-0.30},{"s":41,"t":6,"y":-0.20},{"s":41,"t":10,"y":-0.15},
{"s":42,"t":0.01,"y":-0.43},{"s":42,"t":0.03,"y":-0.43},{"s":42,"t":0.045,"y":-0.55},{"s":42,"t":0.06,"y":-0.35},{"s":42,"t":0.08,"y":-0.60},{"s":42,"t":0.1,"y":-0.35},{"s":42,"t":0.14,"y":-0.65},{"s":42,"t":0.18,"y":-0.40},{"s":42,"t":0.23,"y":-0.80},{"s":42,"t":0.3,"y":-0.50},{"s":42,"t":0.4,"y":-0.70},{"s":42,"t":0.52,"y":-0.40},{"s":42,"t":0.7,"y":-0.65},{"s":42,"t":0.95,"y":-0.45},{"s":42,"t":1.3,"y":-0.55},{"s":42,"t":2,"y":-0.40},{"s":42,"t":3.5,"y":-0.45},{"s":42,"t":6,"y":-0.40},{"s":42,"t":10,"y":-0.40},
{"s":43,"t":0.01,"y":-0.57},{"s":43,"t":0.03,"y":-0.57},{"s":43,"t":0.045,"y":-0.45},{"s":43,"t":0.06,"y":-0.65},{"s":43,"t":0.08,"y":-0.40},{"s":43,"t":0.1,"y":-0.70},{"s":43,"t":0.14,"y":-0.45},{"s":43,"t":0.18,"y":-0.75},{"s":43,"t":0.23,"y":-0.55},{"s":43,"t":0.3,"y":-0.85},{"s":43,"t":0.4,"y":-0.60},{"s":43,"t":0.52,"y":-0.85},{"s":43,"t":0.7,"y":-0.55},{"s":43,"t":0.95,"y":-0.75},{"s":43,"t":1.3,"y":-0.65},{"s":43,"t":2,"y":-0.50},{"s":43,"t":3.5,"y":-0.55},{"s":43,"t":6,"y":-0.60},{"s":43,"t":10,"y":-0.55},
{"s":44,"t":0.01,"y":-0.15},{"s":44,"t":0.03,"y":-0.15},{"s":44,"t":0.045,"y":-0.05},{"s":44,"t":0.06,"y":-0.30},{"s":44,"t":0.08,"y":-0.10},{"s":44,"t":0.1,"y":-0.40},{"s":44,"t":0.14,"y":-0.15},{"s":44,"t":0.18,"y":0.10},{"s":44,"t":0.23,"y":-0.20},{"s":44,"t":0.3,"y":-0.40},{"s":44,"t":0.4,"y":-0.20},{"s":44,"t":0.52,"y":0.05},{"s":44,"t":0.7,"y":-0.15},{"s":44,"t":0.95,"y":-0.30},{"s":44,"t":1.3,"y":-0.10},{"s":44,"t":2,"y":-0.15},{"s":44,"t":3.5,"y":-0.05},{"s":44,"t":6,"y":0.05},{"s":44,"t":10,"y":0.05},
{"s":45,"t":0.01,"y":0.05},{"s":45,"t":0.03,"y":0.05},{"s":45,"t":0.045,"y":0.20},{"s":45,"t":0.06,"y":0.00},{"s":45,"t":0.08,"y":0.30},{"s":45,"t":0.1,"y":0.10},{"s":45,"t":0.14,"y":0.35},{"s":45,"t":0.18,"y":0.15},{"s":45,"t":0.23,"y":0.40},{"s":45,"t":0.3,"y":0.10},{"s":45,"t":0.4,"y":0.30},{"s":45,"t":0.52,"y":0.55},{"s":45,"t":0.7,"y":0.25},{"s":45,"t":0.95,"y":0.40},{"s":45,"t":1.3,"y":0.10},{"s":45,"t":2,"y":0.20},{"s":45,"t":3.5,"y":0.30},{"s":45,"t":6,"y":0.40},{"s":45,"t":10,"y":0.35},
{"s":46,"t":0.01,"y":-0.68},{"s":46,"t":0.03,"y":-0.68},{"s":46,"t":0.045,"y":-0.80},{"s":46,"t":0.06,"y":-0.60},{"s":46,"t":0.08,"y":-0.90},{"s":46,"t":0.1,"y":-0.60},{"s":46,"t":0.14,"y":-0.85},{"s":46,"t":0.18,"y":-0.55},{"s":46,"t":0.23,"y":-0.95},{"s":46,"t":0.3,"y":-0.70},{"s":46,"t":0.4,"y":-1.00},{"s":46,"t":0.52,"y":-0.80},{"s":46,"t":0.7,"y":-0.60},{"s":46,"t":0.95,"y":-0.90},{"s":46,"t":1.3,"y":-0.75},{"s":46,"t":2,"y":-0.65},{"s":46,"t":3.5,"y":-0.70},{"s":46,"t":6,"y":-0.65},{"s":46,"t":10,"y":-0.60},
{"s":47,"t":0.01,"y":0.16},{"s":47,"t":0.03,"y":0.16},{"s":47,"t":0.045,"y":0.30},{"s":47,"t":0.06,"y":0.10},{"s":47,"t":0.08,"y":0.45},{"s":47,"t":0.1,"y":0.20},{"s":47,"t":0.14,"y":0.05},{"s":47,"t":0.18,"y":0.40},{"s":47,"t":0.23,"y":0.20},{"s":47,"t":0.3,"y":0.60},{"s":47,"t":0.4,"y":0.35},{"s":47,"t":0.52,"y":0.15},{"s":47,"t":0.7,"y":0.55},{"s":47,"t":0.95,"y":0.20},{"s":47,"t":1.3,"y":0.30},{"s":47,"t":2,"y":0.35},{"s":47,"t":3.5,"y":0.45},{"s":47,"t":6,"y":0.50},{"s":47,"t":10,"y":0.55}
],
"m": [
{"t":0.01,"y":-0.15},{"t":0.02,"y":-0.15},{"t":0.03,"y":-0.16},{"t":0.038,"y":-0.20},{"t":0.045,"y":-0.21},{"t":0.052,"y":-0.24},{"t":0.056,"y":-0.23},{"t":0.065,"y":-0.19},{"t":0.075,"y":-0.18},{"t":0.085,"y":-0.17},{"t":0.091,"y":-0.14},{"t":0.105,"y":-0.25},{"t":0.125,"y":-0.14},{"t":0.15,"y":-0.03},{"t":0.165,"y":-0.05},{"t":0.182,"y":-0.09},{"t":0.2,"y":-0.12},{"t":0.227,"y":-0.19},{"t":0.26,"y":-0.17},{"t":0.318,"y":-0.13},{"t":0.4,"y":-0.15},{"t":0.495,"y":-0.17},{"t":0.587,"y":-0.09},{"t":0.68,"y":-0.10},{"t":0.76,"y":-0.13},{"t":0.9,"y":-0.22},{"t":1.03,"y":-0.19},{"t":1.15,"y":-0.22},{"t":1.33,"y":-0.28},{"t":1.5,"y":-0.24},{"t":1.73,"y":-0.14},{"t":2.15,"y":-0.09},{"t":3.3,"y":-0.07},{"t":5.15,"y":-0.02},{"t":6.7,"y":0.02},{"t":8,"y":0.0},{"t":10,"y":-0.06}
],
"b": [
{"k":"u","t":0.01,"y":0.47},{"k":"u","t":0.03,"y":0.47},{"k":"u","t":0.04,"y":0.43},{"k":"u","t":0.05,"y":0.40},{"k":"u","t":0.056,"y":0.37},{"k":"u","t":0.063,"y":0.42},{"k":"u","t":0.075,"y":0.38},{"k":"u","t":0.105,"y":0.34},{"k":"u","t":0.135,"y":0.51},{"k":"u","t":0.153,"y":0.60},{"k":"u","t":0.174,"y":0.50},{"k":"u","t":0.236,"y":0.50},{"k":"u","t":0.318,"y":0.62},{"k":"u","t":0.38,"y":0.56},{"k":"u","t":0.45,"y":0.57},{"k":"u","t":0.587,"y":0.62},{"k":"u","t":0.73,"y":0.51},{"k":"u","t":0.9,"y":0.33},{"k":"u","t":1.12,"y":0.26},{"k":"u","t":1.45,"y":0.23},{"k":"u","t":1.83,"y":0.34},{"k":"u","t":2.67,"y":0.36},{"k":"u","t":3.3,"y":0.42},{"k":"u","t":5.1,"y":0.38},{"k":"u","t":6.7,"y":0.41},{"k":"u","t":10,"y":0.34},
{"k":"l","t":0.01,"y":-0.76},{"k":"l","t":0.03,"y":-0.77},{"k":"l","t":0.045,"y":-0.78},{"k":"l","t":0.056,"y":-0.83},{"k":"l","t":0.07,"y":-0.78},{"k":"l","t":0.087,"y":-0.76},{"k":"l","t":0.108,"y":-0.83},{"k":"l","t":0.14,"y":-0.67},{"k":"l","t":0.159,"y":-0.72},{"k":"l","t":0.207,"y":-0.80},{"k":"l","t":0.227,"y":-0.85},{"k":"l","t":0.293,"y":-0.83},{"k":"l","t":0.38,"y":-0.90},{"k":"l","t":0.47,"y":-0.97},{"k":"l","t":0.535,"y":-0.90},{"k":"l","t":0.64,"y":-0.80},{"k":"l","t":0.76,"y":-0.75},{"k":"l","t":0.83,"y":-0.80},{"k":"l","t":1.03,"y":-0.75},{"k":"l","t":1.33,"y":-0.81},{"k":"l","t":1.73,"y":-0.59},{"k":"l","t":2.4,"y":-0.55},{"k":"l","t":3.4,"y":-0.56},{"k":"l","t":4.5,"y":-0.48},{"k":"l","t":6.7,"y":-0.40},{"k":"l","t":7.9,"y":-0.42},{"k":"l","t":10,"y":-0.47}
]
},
"layer": [
{
"data": {"name": "g"},
"mark": {"type": "line", "color": "#999999", "strokeWidth": 1.2, "clip": true},
"encoding": {
"x": {"field": "t", "type": "quantitative", "scale": {"type": "log", "domain": [0.01, 10], "nice": false},
"axis": {"orient": "bottom", "title": "Vibration period, T (s)", "titlePadding": 6,
"values": [0.01,0.02,0.03,0.04,0.05,0.06,0.07,0.08,0.09,0.1,0.2,0.3,0.4,0.5,0.6,0.7,0.8,0.9,1,2,3,4,5,6,7,8,9,10],
"labelExpr": "datum.value == 0.01 ? '10⁻²' : datum.value == 0.1 ? '10⁻¹' : datum.value == 1 ? '10⁰' : datum.value == 10 ? '10¹' : ''",
"labelPadding": 14, "labelOverlap": false, "labelFlush": false,
"tickSize": {"condition": {"test": "datum.value == 0.01 || datum.value == 0.1 || datum.value == 1 || datum.value == 10", "value": -8}, "value": -4},
"grid": true, "gridColor": "black", "gridDash": [1, 3], "gridWidth": 0.8, "gridOpacity": 0.7}},
"y": {"field": "y", "type": "quantitative", "scale": {"domain": [-2.5, 2.5], "nice": false},
"axis": {"orient": "left", "title": "Within-event residual, δWₑₛ", "titlePadding": 10,
"values": [-2.4,-2.2,-2,-1.8,-1.6,-1.4,-1.2,-1,-0.8,-0.6,-0.4,-0.2,0,0.2,0.4,0.6,0.8,1,1.2,1.4,1.6,1.8,2,2.2,2.4],
"labelExpr": "abs(datum.value - round(datum.value)) < 0.001 ? (datum.value < -0.5 ? '−' + abs(round(datum.value)) : '' + round(datum.value)) : ''",
"labelPadding": 16, "labelOverlap": false,
"tickSize": {"condition": {"test": "abs(datum.value - round(datum.value)) < 0.001", "value": -8}, "value": -4},
"grid": true, "gridColor": "black", "gridDash": [1, 3], "gridWidth": 0.8,
"gridOpacity": {"condition": {"test": "abs(datum.value - round(datum.value)) < 0.001", "value": 0.7}, "value": 0}}},
"detail": {"field": "s", "type": "nominal"}
}
},
{
"data": {"name": "b"},
"mark": {"type": "line", "color": "#ff0000", "strokeWidth": 1.3, "strokeDash": [5, 4], "clip": true},
"encoding": {
"x": {"field": "t", "type": "quantitative", "axis": null},
"y": {"field": "y", "type": "quantitative", "axis": null},
"detail": {"field": "k", "type": "nominal"}
}
},
{
"data": {"name": "m"},
"mark": {"type": "line", "color": "#ff0000", "strokeWidth": 5, "clip": true},
"encoding": {
"x": {"field": "t", "type": "quantitative",
"axis": {"orient": "top", "title": null, "labels": false, "grid": false,
"values": [0.01,0.02,0.03,0.04,0.05,0.06,0.07,0.08,0.09,0.1,0.2,0.3,0.4,0.5,0.6,0.7,0.8,0.9,1,2,3,4,5,6,7,8,9,10],
"tickSize": {"condition": {"test": "datum.value == 0.01 || datum.value == 0.1 || datum.value == 1 || datum.value == 10", "value": -8}, "value": -4}}},
"y": {"field": "y", "type": "quantitative",
"axis": {"orient": "right", "title": null, "labels": false, "grid": false,
"values": [-2.4,-2.2,-2,-1.8,-1.6,-1.4,-1.2,-1,-0.8,-0.6,-0.4,-0.2,0,0.2,0.4,0.6,0.8,1,1.2,1.4,1.6,1.8,2,2.2,2.4],
"tickSize": {"condition": {"test": "abs(datum.value - round(datum.value)) < 0.001", "value": -8}, "value": -4}}}
}
},
{
"data": {"values": [{"label": "DFHS Simulation"}]},
"mark": {"type": "text", "text": ["DFHS", "Simulation"], "align": "left", "baseline": "top", "font": "DejaVu Sans", "fontSize": 16, "lineHeight": 19, "color": "black"},
"encoding": {
"x": {"datum": 0.0107, "type": "quantitative", "axis": null},
"y": {"datum": 2.45, "type": "quantitative", "axis": null}
}
}
],
"resolve": {"axis": {"x": "independent", "y": "independent"}}
}
